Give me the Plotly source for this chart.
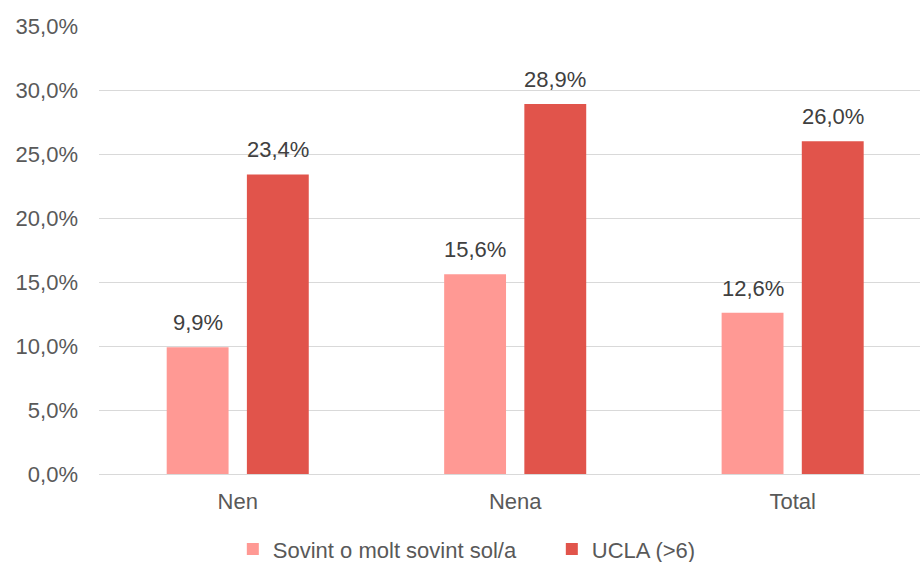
import plotly.graph_objects as go

categories = ["Nen", "Nena", "Total"]
sovint = [9.9, 15.6, 12.6]
ucla = [23.4, 28.9, 26.0]
series_names = ["Sovint o molt sovint sol/a", "UCLA (>6)"]
series_colors = ["#FF9994", "#E1544B"]
y_ticks = [0, 5, 10, 15, 20, 25, 30, 35]

font_family = "Liberation Sans, Arial, sans-serif"
bar_width = 0.223
offsets = [-0.256, 0.033]
px_per_cat = 277.5  # horizontal pixels per category slot

fig = go.Figure()
annotations = []
for name, vals, color, off in zip(series_names, [sovint, ucla], series_colors, offsets):
    fig.add_trace(go.Bar(
        x=categories, y=vals, name=name,
        marker=dict(color=color, line=dict(width=0)),
        width=bar_width, offset=off,
    ))
    # value labels above each bar, centred on the bar
    shift = (off + bar_width / 2) * px_per_cat
    for cat, v in zip(categories, vals):
        annotations.append(dict(
            x=cat, y=v, xref="x", yref="y",
            text=f"{v:.1f}%".replace(".", ","),
            showarrow=False, xanchor="center", yanchor="bottom",
            xshift=shift, yshift=10,
            font=dict(size=22, color="#404040", family=font_family),
        ))

fig.update_layout(
    width=920, height=562,
    margin=dict(l=99, r=0, t=26, b=88, autoexpand=False),
    paper_bgcolor="white", plot_bgcolor="white",
    font=dict(family=font_family, size=22, color="#595959"),
    barmode="group",
    showlegend=True,
    annotations=annotations,
    legend=dict(
        orientation="h", x=0.163, xanchor="left", y=-0.168, yanchor="middle",
        font=dict(size=22, color="#595959"),
        itemwidth=30, traceorder="normal", entrywidth=274,
    ),
    xaxis=dict(
        range=[-0.5, 2.459], showgrid=False, ticks="", showline=False,
        zeroline=False, ticklabelstandoff=12,
        tickfont=dict(size=22, color="#595959"),
    ),
    yaxis=dict(
        range=[0, 35], tickvals=y_ticks,
        ticktext=[f"{v:.1f}%".replace(".", ",") for v in y_ticks],
        showgrid=True, gridcolor="#D9D9D9", gridwidth=1.3,
        zeroline=True, zerolinecolor="#D9D9D9", zerolinewidth=1.3,
        ticks="", ticklabelstandoff=20, showline=False,
        tickfont=dict(size=22, color="#595959"),
    ),
)

fig.write_html("out.html")
